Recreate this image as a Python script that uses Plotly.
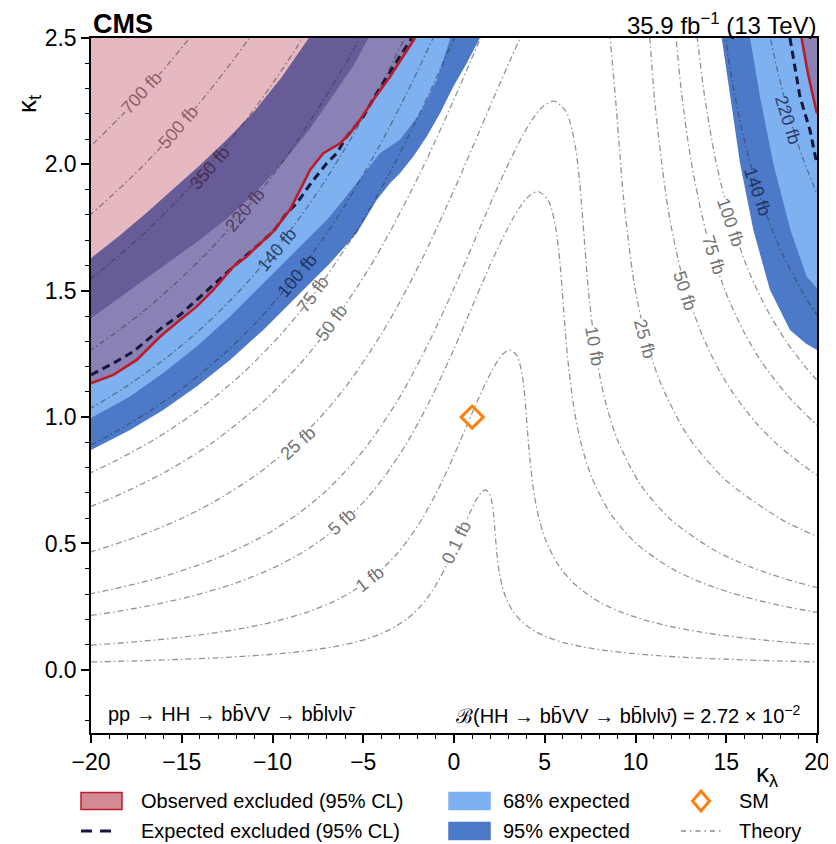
import plotly.graph_objects as go

# ---------------- data ----------------
# Theory iso-lines of sigma x B (fb), kappa_lambda (kl) vs kappa_t (kt)
th0p1_kl = [-20.0, -17.5, -15.0, -13.0, -11.25, -9.925, -8.575, -7.81, -6.50, -5.454, -4.521, -3.767, -3.143,
            -2.609, -2.232, -1.794, -1.439, -1.003, -0.737, -0.413, 0.0, 0.573, 0.872, 1.203, 1.380, 1.552, 1.745,
            1.955, 2.106, 2.191, 2.246, 2.348, 2.497, 2.652, 2.858, 3.245, 3.767, 4.515, 5.156, 5.994, 6.731, 7.602,
            8.384, 9.761, 11.246, 13.0, 15.0, 17.5, 20.0]
th0p1_kt = [0.0311, 0.0355, 0.0414, 0.0476, 0.0549, 0.0620, 0.0714, 0.0781, 0.0929, 0.1091, 0.1292, 0.1508, 0.1747,
            0.2008, 0.2235, 0.2561, 0.2877, 0.3345, 0.3679, 0.4131, 0.4774, 0.5731, 0.6212, 0.6697, 0.6901, 0.7048,
            0.7115, 0.6981, 0.6581, 0.6086, 0.5616, 0.4696, 0.3842, 0.3315, 0.2858, 0.2320, 0.1885, 0.1505, 0.1290,
            0.1090, 0.0962, 0.0845, 0.0762, 0.0651, 0.0562, 0.0482, 0.0419, 0.0358, 0.0313]

th1_kl = [-20.01, -19.76, -18.73, -17.65, -16.49, -15.25, -13.89, -11.56, -9.70, -8.04, -6.70, -5.59, -4.64, -3.97,
          -3.19, -2.56, -1.78, -1.31, -0.73, 0.0, 1.02, 1.55, 2.14, 2.45, 2.76, 3.10, 3.48, 3.75, 3.90, 3.99, 4.18,
          4.44, 4.72, 5.08, 5.77, 6.70, 8.03, 9.17, 10.66, 11.97, 13.52, 14.91, 16.18, 17.36, 18.46, 19.25, 19.76, 20.0]
th1_kt = [0.0976, 0.0988, 0.1041, 0.1103, 0.1178, 0.1271, 0.1389, 0.1652, 0.1941, 0.2297, 0.2682, 0.3106, 0.3571,
          0.3975, 0.4554, 0.5116, 0.5948, 0.6543, 0.7346, 0.8490, 1.0191, 1.1048, 1.1910, 1.2272, 1.2534, 1.2654,
          1.2414, 1.1704, 1.0823, 0.9987, 0.8352, 0.6832, 0.5896, 0.5083, 0.4125, 0.3352, 0.2677, 0.2294, 0.1939,
          0.1710, 0.1502, 0.1356, 0.1245, 0.1157, 0.1086, 0.1041, 0.1013, 0.1000]

th5_kl = [-20.01, -19.45, -18.52, -16.90, -14.51, -12.02, -10.03, -8.36, -6.94, -5.94, -4.77, -3.83, -2.67, -1.96,
          -1.10, 0.0, 1.52, 2.31, 3.21, 3.67, 4.12, 4.64, 5.20, 5.60, 5.83, 5.97, 6.24, 6.64, 7.05, 7.60, 8.64, 10.02,
          12.01, 13.72, 15.95, 17.90, 19.10, 19.67, 20.0]
th5_kt = [0.2152, 0.2210, 0.2315, 0.2522, 0.2902, 0.3434, 0.4010, 0.4645, 0.5340, 0.5943, 0.6810, 0.7650, 0.8894,
          0.9784, 1.0984, 1.2695, 1.5240, 1.6521, 1.7810, 1.8350, 1.8742, 1.8923, 1.8565, 1.7500, 1.6183, 1.4935,
          1.2490, 1.0216, 0.8816, 0.7600, 0.6168, 0.5012, 0.4003, 0.3430, 0.2900, 0.2558, 0.2387, 0.2314, 0.2273]

th10_kl = [-20.10, -19.94, -19.63, -18.65, -17.26, -15.94, -13.16, -10.55, -8.62, -7.07, -5.67, -4.55, -3.17, -2.33,
           -1.31, 0.0, 1.81, 2.75, 3.81, 4.36, 4.90, 5.51, 6.18, 6.66, 6.93, 7.10, 7.43, 7.90, 8.39, 9.04, 10.27,
           11.92, 14.28, 16.31, 18.12, 18.97, 19.77, 20.08]
th10_kt = [0.3000, 0.3022, 0.3067, 0.3215, 0.3452, 0.3708, 0.4387, 0.5273, 0.6156, 0.7068, 0.8098, 0.9097, 1.0577,
           1.1635, 1.3062, 1.5097, 1.8123, 1.9647, 2.1180, 2.1822, 2.2289, 2.2503, 2.2076, 2.0812, 1.9245, 1.7761,
           1.4852, 1.2149, 1.0484, 0.9038, 0.7335, 0.5960, 0.4761, 0.4079, 0.3625, 0.3448, 0.3295, 0.3239]

th25L_kl = [-20.05, -19.80, -19.30, -17.97, -16.55, -14.99, -13.26, -10.84, -8.89, -7.13, -5.72, -3.99, -2.93,
            -1.64, 0.0, 1.035, 2.28, 3.15, 3.62, 3.78]
th25L_kt = [0.4662, 0.4714, 0.4824, 0.5136, 0.5517, 0.5997, 0.6630, 0.7741, 0.8888, 1.0183, 1.1439, 1.3299, 1.4630,
            1.6425, 1.8984, 2.0700, 2.2788, 2.4211, 2.4953, 2.5200]
th25R_kl = [8.57, 8.60, 8.93, 9.15, 9.34, 9.93, 10.55, 11.37, 12.91, 14.99, 17.96, 19.28, 19.78, 20.03]
th25R_kt = [2.520, 2.4996, 2.2334, 2.0320, 1.8676, 1.5277, 1.3183, 1.1365, 0.9223, 0.7494, 0.5986, 0.5508, 0.5346,
            0.5271]

th50L_kl = [-20.03, -19.68, -18.96, -17.83, -15.77, -13.41, -10.57, -8.48, -6.80, -4.74, -3.48, -1.95, -1.045, 0.0,
            0.84, 1.23, 1.50]
th50L_kt = [0.6462, 0.6560, 0.6772, 0.7132, 0.7884, 0.8938, 1.0569, 1.2110, 1.3604, 1.5816, 1.7398, 1.9533, 2.0908,
            2.2575, 2.3959, 2.4615, 2.5075]
th50R_kl = [10.73, 10.79, 11.10, 11.81, 12.54, 13.52, 14.46, 15.36, 16.63, 17.82, 19.67, 20.02]
th50R_kt = [2.5546, 2.4976, 2.2209, 1.8168, 1.5677, 1.3516, 1.2047, 1.0968, 0.9783, 0.8912, 0.7866, 0.7698]

th75L_kl = [-20.16, -19.95, -19.73, -18.63, -16.45, -14.26, -11.70, -9.38, -7.53, -5.25, -3.85, -2.16, -1.157, 0.0,
            0.126]
th75L_kt = [0.7753, 0.7822, 0.7893, 0.8278, 0.9140, 1.0186, 1.1697, 1.3402, 1.5055, 1.7503, 1.9254, 2.1616, 2.3140,
            2.4984, 2.5190]
th75R_kl = [12.19, 12.24, 12.54, 13.07, 13.88, 14.96, 16.00, 16.99, 18.41, 19.73, 20.15]
th75R_kt = [2.5392, 2.4977, 2.2807, 2.0105, 1.7350, 1.4957, 1.3332, 1.2138, 1.0827, 0.9863, 0.9595]

th100L_kl = [-20.01, -19.77, -19.27, -18.49, -16.54, -14.68, -12.57, -10.96, -9.13, -6.94, -5.64, -4.14, -3.28,
             -2.32, -1.24, -1.13]
th100L_kt = [0.8895, 0.8985, 0.9174, 0.9482, 1.0339, 1.1293, 1.2569, 1.3706, 1.5213, 1.7348, 1.8808, 2.0690, 2.1857,
             2.3228, 2.4866, 2.5046]
th100R_kl = [13.32, 13.41, 13.76, 14.33, 14.92, 16.07, 17.19, 18.26, 19.28, 19.78, 20.02]
th100R_kt = [2.5606, 2.4968, 2.2931, 2.0474, 1.8644, 1.6073, 1.4326, 1.3043, 1.2052, 1.1634, 1.1440]

th140L_kl = [-20.11, -19.82, -19.23, -17.99, -16.67, -15.24, -13.67, -11.93, -9.93, -8.80, -7.55, -6.14, -4.50,
             -3.57, -2.53]
th140L_kt = [1.0314, 1.0433, 1.0684, 1.1246, 1.1907, 1.2699, 1.3672, 1.4909, 1.6549, 1.7597, 1.8870, 2.0459, 2.2506,
             2.3775, 2.5268]
th140R_kl = [14.91, 15.28, 15.91, 16.86, 18.10, 19.29, 19.86, 20.09]
th140R_kt = [2.5263, 2.3500, 2.1208, 1.8730, 1.6452, 1.4837, 1.4188, 1.3952]

th220L_kl = [-20.15, -19.42, -18.66, -17.06, -15.31, -13.35, -11.12, -9.85, -8.45, -6.87, -5.99, -5.04]
th220L_kt = [1.2590, 1.2945, 1.3330, 1.4218, 1.5310, 1.6690, 1.8530, 1.9700, 2.1130, 2.2910, 2.3970, 2.5200]
th220R_kl = [17.31, 17.44, 17.81, 18.52, 19.22, 19.92, 20.06]
th220R_kt = [2.546, 2.4987, 2.3745, 2.1789, 2.0237, 1.8972, 1.8746]

th350_kl = [-20.08, -19.16, -17.19, -15.00, -13.79, -12.48, -11.06, -9.49, -8.63, -8.28]
th350_kt = [1.5446, 1.5970, 1.7190, 1.8750, 1.9700, 2.0810, 2.2130, 2.3730, 2.4670, 2.5080]

th500_kl = [-20.11, -19.90, -18.80, -17.63, -16.40, -15.07, -13.65, -12.10, -11.26]
th500_kt = [1.7960, 1.8090, 1.8800, 1.9590, 2.0490, 2.1530, 2.2750, 2.4190, 2.5020]

th700_kl = [-20.45, -19.82, -18.52, -17.83, -17.13, -16.40, -15.64, -14.85, -14.52]
th700_kt = [2.045, 2.086, 2.178, 2.229, 2.284, 2.343, 2.406, 2.475, 2.504]

# Expected-limit bands, left region (edges)
b95up_kl = [-20.0, -18.5, -17.0, -15.5, -14.0, -12.5, -11.0, -9.5, -8.0]
b95up_kt = [1.629, 1.714, 1.805, 1.899, 1.996, 2.099, 2.210, 2.345, 2.500]
b68up_kl = [-20.0, -18.5, -17.0, -15.5, -14.0, -12.5, -11.0, -9.5, -8.0, -6.5, -5.5, -4.72]
b68up_kt = [1.391, 1.468, 1.546, 1.624, 1.702, 1.787, 1.884, 2.000, 2.135, 2.290, 2.395, 2.500]
b68lo_kl = [-20.0, -17.85, -16.02, -14.18, -12.34, -10.51, -8.67, -7.01, -6.10, -4.08, -2.98, -1.87, -0.95, -0.20]
b68lo_kt = [0.996, 1.081, 1.174, 1.279, 1.398, 1.530, 1.661, 1.780, 1.859, 2.044, 2.097, 2.202, 2.334, 2.500]
b95lo_kl = [-20.0, -17.85, -16.02, -14.18, -12.34, -10.51, -8.67, -6.83, -5.36, -4.26, -3.53, -2.98, -2.24, -1.50,
            -0.77, -0.04, 0.70, 1.43]
b95lo_kt = [0.870, 0.949, 1.028, 1.121, 1.226, 1.345, 1.477, 1.609, 1.727, 1.859, 1.925, 1.965, 2.031, 2.110, 2.202,
            2.307, 2.400, 2.500]
# right region (lower edges)
r95lo_kl = [14.75, 15.21, 15.76, 16.49, 17.41, 18.51, 19.40, 20.0]
r95lo_kt = [2.500, 2.268, 2.004, 1.741, 1.503, 1.345, 1.290, 1.265]
r68lo_kl = [16.31, 16.86, 17.59, 18.53, 19.43, 20.0]
r68lo_kt = [2.500, 2.268, 2.004, 1.741, 1.556, 1.510]

# Observed and expected exclusion contours
obs_kl = [-20.0, -18.77, -17.48, -16.20, -15.10, -14.18, -13.26, -12.16, -11.42, -11.06, -9.96, -9.04, -8.48, -7.93,
          -7.20, -6.28, -5.73, -5.18, -4.45, -3.53, -2.15]
obs_kt = [1.134, 1.167, 1.226, 1.318, 1.384, 1.437, 1.503, 1.595, 1.635, 1.661, 1.735, 1.820, 1.899, 1.978, 2.044,
          2.083, 2.123, 2.176, 2.255, 2.347, 2.500]
exp_kl = [-20.0, -18.77, -17.67, -16.02, -15.10, -14.18, -13.26, -11.79, -10.87, -9.96, -9.22, -8.67, -7.75, -7.01,
          -6.46, -5.91, -5.00, -4.26, -3.34, -2.33]
exp_kt = [1.167, 1.213, 1.259, 1.358, 1.404, 1.464, 1.523, 1.618, 1.675, 1.734, 1.806, 1.846, 1.938, 2.004, 2.044,
          2.110, 2.189, 2.281, 2.387, 2.500]
obsR_kl = [19.15, 19.50, 20.0]
obsR_kt = [2.500, 2.360, 2.200]
expR_kl = [18.51, 19.06, 19.61, 20.0]
expR_kt = [2.500, 2.268, 2.136, 2.000]

sm_kl = [1.0]
sm_kt = [1.0]

# ---------------- styling ----------------
C_DARK = "rgb(76,122,200)"
C_LIGHT = "rgb(125,177,240)"
C_OBS_FILL = "rgba(168,22,42,0.30)"
C_OBS_LINE = "rgb(188,28,42)"
C_EXP = "rgb(22,22,62)"
C_THEORY = "rgba(50,50,55,0.52)"
FONT = "Liberation Sans, Arial, sans-serif"
TH_DASH = "6px,3px,1.5px,3px"

# The page adds an 8 px body margin, so the figure's own pixel positions are the
# reference positions shifted by -8.
OFF = 8
W, H = 836, 844
PL, PR, PT, PB = 91 - OFF, 817 - OFF, 38 - OFF, 733 - OFF   # plot area in figure pixels

fig = go.Figure()


def poly(xs, ys, color):
    fig.add_trace(go.Scatter(x=xs, y=ys, mode="lines", fill="toself", fillcolor=color,
                             line=dict(width=0, color=color), hoverinfo="skip", showlegend=False))


# bands (left)
poly(b95up_kl + b95lo_kl[::-1], b95up_kt + b95lo_kt[::-1], C_DARK)
poly(b68up_kl + b68lo_kl[::-1], b68up_kt + b68lo_kt[::-1], C_LIGHT)
# bands (right)
poly(r95lo_kl + [20.0], r95lo_kt + [2.5], C_DARK)
poly(r68lo_kl + [20.0], r68lo_kt + [2.5], C_LIGHT)
# observed excluded regions
poly(obs_kl + [-20.0], obs_kt + [2.5], C_OBS_FILL)
poly(obsR_kl + [20.0], obsR_kt + [2.5], C_OBS_FILL)

# theory contours
theory = [
    (th0p1_kl, th0p1_kt), (th1_kl, th1_kt), (th5_kl, th5_kt), (th10_kl, th10_kt),
    (th25L_kl, th25L_kt), (th25R_kl, th25R_kt), (th50L_kl, th50L_kt), (th50R_kl, th50R_kt),
    (th75L_kl, th75L_kt), (th75R_kl, th75R_kt), (th100L_kl, th100L_kt), (th100R_kl, th100R_kt),
    (th140L_kl, th140L_kt), (th140R_kl, th140R_kt), (th220L_kl, th220L_kt), (th220R_kl, th220R_kt),
    (th350_kl, th350_kt), (th500_kl, th500_kt), (th700_kl, th700_kt),
]
for xs, ys in theory:
    fig.add_trace(go.Scatter(x=xs, y=ys, mode="lines",
                             line=dict(color=C_THEORY, width=1.3, dash=TH_DASH, shape="spline", smoothing=0.8),
                             hoverinfo="skip", showlegend=False))

# expected and observed lines
for xs, ys in [(exp_kl, exp_kt), (expR_kl, expR_kt)]:
    fig.add_trace(go.Scatter(x=xs, y=ys, mode="lines", line=dict(color=C_EXP, width=3, dash="8px,5px"),
                             hoverinfo="skip", showlegend=False))
for xs, ys in [(obs_kl, obs_kt), (obsR_kl, obsR_kt)]:
    fig.add_trace(go.Scatter(x=xs, y=ys, mode="lines", line=dict(color=C_OBS_LINE, width=2.6),
                             hoverinfo="skip", showlegend=False))

# SM point
fig.add_trace(go.Scatter(x=sm_kl, y=sm_kt, mode="markers",
                         marker=dict(symbol="diamond-open", size=17, color="rgb(255,127,14)",
                                     line=dict(width=3, color="rgb(255,127,14)")),
                         hoverinfo="skip", showlegend=False))

# contour labels: (text, kl, kt, angle, text colour, background)
PINK = "rgb(229,185,191)"
WHITE = "white"
NONE = "rgba(0,0,0,0)"
GREY = "rgb(115,115,115)"
labels = [
    ("700 fb", -17.21, 2.281, -47, "rgb(145,95,105)", PINK),
    ("500 fb", -15.19, 2.149, -49, "rgb(145,95,105)", PINK),
    ("350 fb", -13.45, 1.985, -49, "rgb(72,45,85)", NONE),
    ("220 fb", -11.52, 1.820, -50, "rgb(88,58,98)", NONE),
    ("140 fb", -9.77, 1.661, -50, "rgb(45,65,112)", NONE),
    ("100 fb", -8.67, 1.560, -50, "rgb(35,50,100)", NONE),
    ("75 fb", -7.75, 1.486, -54, GREY, NONE),
    ("50 fb", -6.74, 1.371, -54, GREY, WHITE),
    ("25 fb", -8.58, 0.897, -42, GREY, WHITE),
    ("5 fb", -6.19, 0.585, -43, GREY, WHITE),
    ("1 fb", -4.63, 0.358, -38, GREY, WHITE),
    ("0.1 fb", 0.15, 0.505, -64, GREY, WHITE),
    ("10 fb", 7.72, 1.280, 80, GREY, WHITE),
    ("25 fb", 10.52, 1.310, 75, GREY, WHITE),
    ("50 fb", 12.73, 1.500, 72, GREY, WHITE),
    ("75 fb", 14.29, 1.640, 72, GREY, WHITE),
    ("100 fb", 15.21, 1.770, 71, GREY, WHITE),
    ("140 fb", 16.72, 1.890, 71, "rgb(35,50,100)", NONE),
    ("220 fb", 18.40, 2.176, 73, "rgb(45,65,112)", NONE),
]
annotations = []
for txt, x, y, ang, col, bg in labels:
    annotations.append(dict(x=x, y=y, xref="x", yref="y", text=txt, showarrow=False, textangle=ang,
                            font=dict(family=FONT, size=18, color=col), bgcolor=bg, borderpad=0))


def px2p(px, py):
    """reference-image pixel -> paper coordinates"""
    return (px - 91) / 726.0, (733 - py) / 695.0


# header (box top flush with the top of the figure) and in-plot text
TOP = 1.0 + PT / 695.0
annotations += [
    dict(x=px2p(92, 0)[0], y=TOP, xref="paper", yref="paper", text="<b>CMS</b>", showarrow=False,
         xanchor="left", yanchor="top", borderpad=0, font=dict(family=FONT, size=27, color="black")),
    dict(x=1.0, y=TOP, xref="paper", yref="paper", text="35.9 fb<sup>−1</sup> (13 TeV)",
         showarrow=False, xanchor="right", yanchor="top", borderpad=0,
         font=dict(family=FONT, size=24, color="black")),
    dict(x=px2p(106, 0)[0], y=px2p(0, 714)[1], xref="paper", yref="paper",
         text="pp → HH → bb\u0304VV → bb\u0304lνlν\u0304", showarrow=False, xanchor="left", yanchor="middle",
         font=dict(family=FONT, size=20, color="black")),
    dict(x=px2p(802, 0)[0], y=px2p(0, 714)[1], xref="paper", yref="paper",
         text="ℬ(HH → bb\u0304VV → bb\u0304lνlν\u0304) = 2.72 × 10<sup>−2</sup>", showarrow=False,
         xanchor="right", yanchor="middle", font=dict(family=FONT, size=20, color="black")),
    dict(x=px2p(29, 0)[0], y=px2p(0, 104)[1], xref="paper", yref="paper", text="κ<sub>t</sub>", showarrow=False,
         textangle=-90, xanchor="center", yanchor="middle", font=dict(family=FONT, size=26, color="black")),
    dict(x=px2p(767, 0)[0], y=px2p(0, 775)[1], xref="paper", yref="paper", text="κ<sub>λ</sub>",
         showarrow=False, xanchor="center", yanchor="middle", font=dict(family=FONT, size=26, color="black")),
]

# manual legend
shapes = []
row1, row2 = 801, 831


def box(x0, x1, yc, fill, line):
    a0, b0 = px2p(x0, yc - 8.5)
    a1, b1 = px2p(x1, yc + 8.5)
    shapes.append(dict(type="rect", xref="paper", yref="paper", x0=a0, x1=a1, y0=b1, y1=b0,
                       fillcolor=fill, line=dict(color=line, width=1.5)))


box(81, 122, row1, "rgba(168,22,42,0.5)", "rgb(188,28,42)")
box(449, 490, row1, C_LIGHT, C_LIGHT)
box(449, 490, row2, C_DARK, C_DARK)
a0, b0 = px2p(81, row2)
a1, _ = px2p(112, row2)
shapes.append(dict(type="line", xref="paper", yref="paper", x0=a0, x1=a1, y0=b0, y1=b0,
                   line=dict(color=C_EXP, width=3, dash="11px,8px")))
a0, b0 = px2p(681, row2)
a1, _ = px2p(721, row2)
shapes.append(dict(type="line", xref="paper", yref="paper", x0=a0, x1=a1, y0=b0, y1=b0,
                   line=dict(color="rgb(140,140,140)", width=1.5, dash="5px,4px,1.5px,4px")))
cx, cy = px2p(701, row1)
w, h = 8.5 / 726.0, 10.0 / 695.0
shapes.append(dict(type="path", xref="paper", yref="paper",
                   path=f"M {cx},{cy + h} L {cx + w},{cy} L {cx},{cy - h} L {cx - w},{cy} Z",
                   line=dict(color="rgb(255,127,14)", width=3)))

for txt, px, py in [("Observed excluded (95% CL)", 139, row1), ("Expected excluded (95% CL)", 139, row2),
                    ("68% expected", 501, row1), ("95% expected", 501, row2),
                    ("SM", 737, row1), ("Theory", 737, row2)]:
    x, y = px2p(px, py)
    annotations.append(dict(x=x, y=y, xref="paper", yref="paper", text=txt, showarrow=False, xanchor="left",
                            yanchor="middle", font=dict(family=FONT, size=20, color="black")))

axis_common = dict(showline=True, linecolor="black", linewidth=1.5, mirror=True, ticks="outside",
                   tickcolor="black", tickwidth=1.5, ticklen=8, showgrid=False, zeroline=False,
                   tickfont=dict(family=FONT, size=23, color="black"), automargin=False)
fig.update_layout(
    width=W, height=H,
    margin=dict(l=PL, r=W - PR, t=PT, b=H - PB, autoexpand=False),
    paper_bgcolor="white", plot_bgcolor="white",
    showlegend=False,
    xaxis=dict(range=[-20, 20], tick0=0, dtick=5,
               minor=dict(dtick=1, ticks="outside", ticklen=4, tickwidth=1.2, tickcolor="black"),
               **axis_common),
    yaxis=dict(range=[-0.25, 2.5], tick0=0, dtick=0.5, tickformat=".1f",
               minor=dict(dtick=0.1, ticks="outside", ticklen=4, tickwidth=1.2, tickcolor="black"),
               **axis_common),
    annotations=annotations,
    shapes=shapes,
)

fig.write_html("out.html")
